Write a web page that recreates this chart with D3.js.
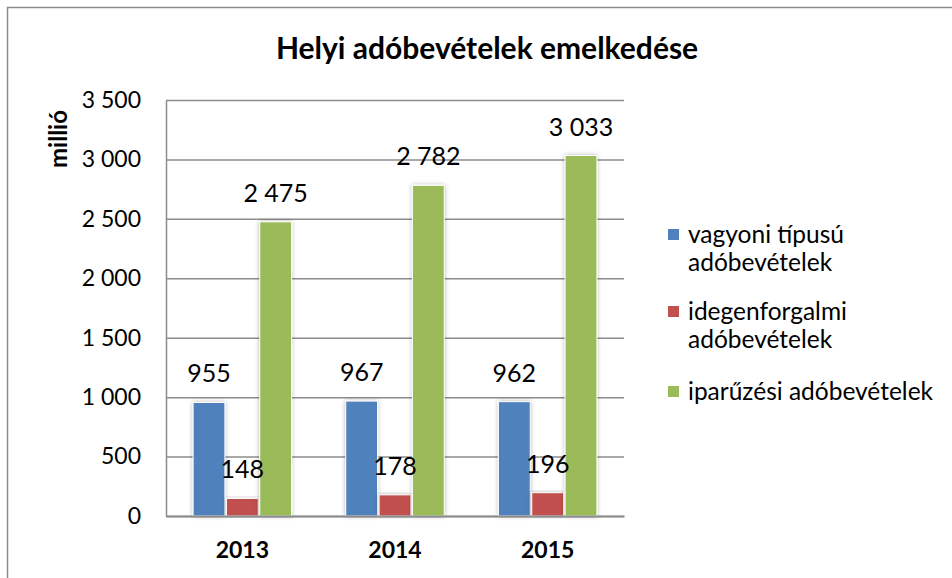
<!DOCTYPE html>
<html lang="hu">
<head>
  <meta charset="UTF-8">
  <title>Helyi adóbevételek emelkedése</title>
  <style>
    body { margin: 0; background: #fff; }
    svg { display: block; font-family: Lato, "Open Sans", sans-serif; }
  </style>
</head>
<body>
<div id="chart"></div>

<script src="https://cdn.jsdelivr.net/npm/d3@7"></script>
<script>
  const YEARS = ['2013', '2014', '2015'];
  const SERIES = ['vagyoni típusú adóbevételek', 'idegenforgalmi adóbevételek', 'iparűzési adóbevételek'];
  const LEGEND_LINES = [['vagyoni típusú', 'adóbevételek'], ['idegenforgalmi', 'adóbevételek'], ['iparűzési adóbevételek']];
  const VAGYONI = [955, 967, 962];
  const IDEGEN = [148, 178, 196];
  const IPAR = [2475, 2782, 3033];
  const Y_TICKS = [0, 500, 1000, 1500, 2000, 2500, 3000, 3500];
  const COLORS = ['#4f81bd', '#c0504d', '#9bbb59'];

  const W = 952, H = 578;
  const plot = {left: 166, right: 624, top: 100, bottom: 516};

  const hu = d3.formatLocale({decimal: ',', thousands: ' ', grouping: [3], currency: ['', '']});
  const fmt = hu.format(',d');

  const rows = YEARS.map((y, i) => ({year: y, values: [VAGYONI[i], IDEGEN[i], IPAR[i]]}));

  const svg = d3.select('#chart').append('svg')
    .attr('width', W)
    .attr('height', H);

  const defs = svg.append('defs');
  defs.append('filter')
    .attr('id', 'shadow')
    .attr('x', '-30%').attr('y', '-10%').attr('width', '160%').attr('height', '120%')
    .append('feDropShadow')
    .attr('dx', 0).attr('dy', 0)
    .attr('stdDeviation', 2)
    .attr('flood-color', '#000')
    .attr('flood-opacity', 0.3);

  // outer frame (runs off the picture on right and bottom)
  svg.append('rect')
    .attr('x', 7.5).attr('y', 7.5)
    .attr('width', W + 20).attr('height', H + 20)
    .attr('fill', 'none')
    .attr('stroke', '#8c8c8c')
    .attr('stroke-width', 1.5);

  // title
  svg.append('text')
    .attr('x', 487).attr('y', 59)
    .attr('text-anchor', 'middle')
    .style('font-size', '30px')
    .style('font-weight', 'bold')
    .text('Helyi adóbevételek emelkedése');

  // scales
  const x0 = d3.scaleBand()
    .domain(YEARS)
    .range([plot.left, plot.right])
    .paddingInner(0.345)
    .paddingOuter(0.1725);

  const x1 = d3.scaleBand()
    .domain(d3.range(SERIES.length))
    .range([0, x0.bandwidth()]);

  const y = d3.scaleLinear()
    .domain([0, 3500])
    .range([plot.bottom, plot.top]);

  // y axis with gridlines
  const yAxis = svg.append('g')
    .attr('transform', `translate(${plot.left},0)`)
    .call(d3.axisLeft(y)
      .tickValues(Y_TICKS)
      .tickSize(-(plot.right - plot.left))
      .tickSizeOuter(0)
      .tickPadding(25)
      .tickFormat(fmt));
  yAxis.select('.domain').attr('stroke', '#8c8c8c').attr('stroke-width', 1.5);
  yAxis.selectAll('.tick line').attr('stroke', '#8c8c8c').attr('stroke-width', 1.5);
  yAxis.selectAll('.tick text')
    .attr('fill', '#000')
    .style('font-size', '23px')
    .style('font-family', 'Lato, sans-serif');

  // y axis title
  svg.append('text')
    .attr('transform', 'translate(67,139) rotate(-90)')
    .attr('text-anchor', 'middle')
    .style('font-size', '24px')
    .style('font-weight', 'bold')
    .text('millió');

  // bars
  const groups = svg.append('g').selectAll('g')
    .data(rows)
    .join('g')
    .attr('transform', d => `translate(${x0(d.year)},0)`);

  groups.selectAll('rect')
    .data(d => d.values.map((v, i) => ({i, v})))
    .join('rect')
    .attr('x', d => x1(d.i) + 0.75)
    .attr('y', d => y(d.v))
    .attr('width', x1.bandwidth() - 1.5)
    .attr('height', d => y(0) - y(d.v))
    .attr('fill', d => COLORS[d.i])
    .attr('stroke', '#fff')
    .attr('stroke-width', 1)
    .attr('filter', 'url(#shadow)');

  groups.selectAll('text.val')
    .data(d => d.values.map((v, i) => ({i, v})))
    .join('text')
    .attr('class', 'val')
    .attr('x', d => x1(d.i) + x1.bandwidth() / 2)
    .attr('y', d => y(d.v) - 20)
    .attr('text-anchor', 'middle')
    .style('font-size', '25px')
    .text(d => fmt(d.v));

  // x axis
  const xAxis = svg.append('g')
    .attr('transform', `translate(0,${plot.bottom})`)
    .call(d3.axisBottom(x0).tickSize(0).tickPadding(26));
  xAxis.select('.domain').attr('stroke', '#8c8c8c').attr('stroke-width', 2);
  xAxis.selectAll('.tick text')
    .attr('fill', '#000')
    .style('font-size', '23px')
    .style('font-weight', 'bold')
    .style('font-family', 'Lato, sans-serif');

  // legend
  const legend = svg.append('g');
  const legendTop = [235, 312, 392];
  SERIES.forEach((s, i) => {
    const g = legend.append('g').attr('transform', `translate(668,${legendTop[i]})`);
    g.append('rect')
      .attr('x', 0).attr('y', -6)
      .attr('width', 11).attr('height', 11)
      .attr('fill', COLORS[i]);
    g.append('text')
      .attr('x', 20).attr('y', 8)
      .style('font-size', '24.5px')
      .selectAll('tspan')
      .data(LEGEND_LINES[i])
      .join('tspan')
      .attr('x', 20)
      .attr('dy', (d, j) => j === 0 ? 0 : 28)
      .text(d => d);
  });
</script>
</body>
</html>
